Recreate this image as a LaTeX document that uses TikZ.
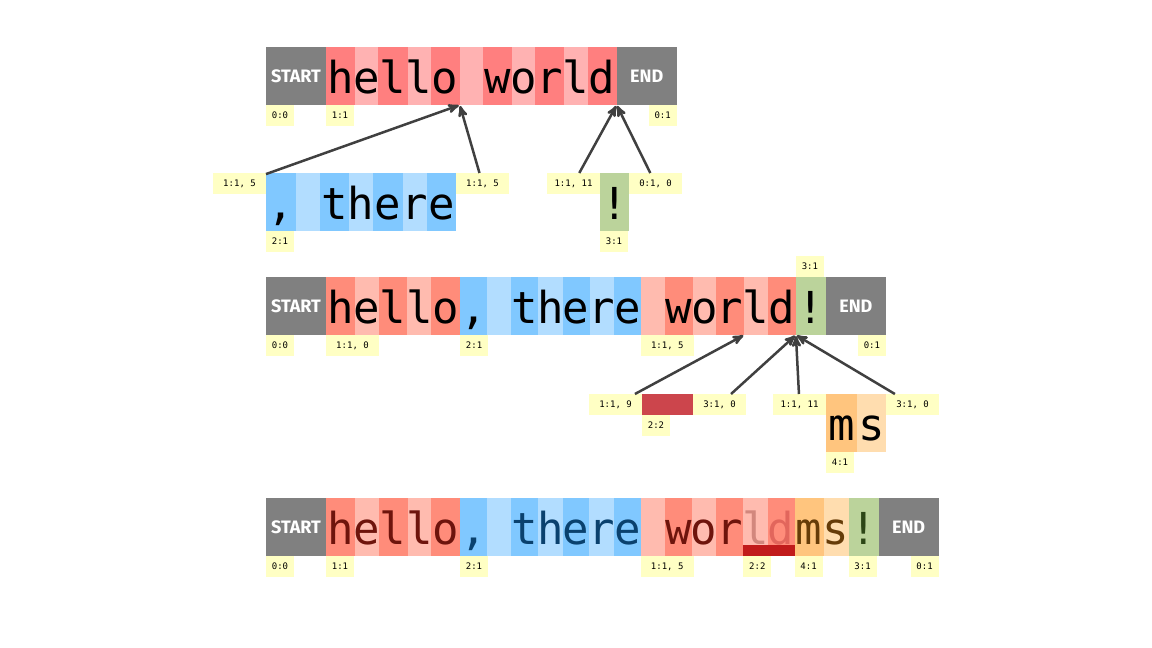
\documentclass[tikz,border=0pt]{standalone}
\usepackage{fontspec}
\usetikzlibrary{arrows,positioning}

\newfontfamily\codefont{DejaVu Sans Mono}
\newfontfamily\tagfont{Fira Sans}
\newcommand{\gl}[1]{\makebox[0pt]{#1}}

\definecolor{edgegray}{HTML}{404040}
\definecolor{boxgray}{HTML}{808080}
\definecolor{tagyellow}{HTML}{FFFFC4}
\definecolor{redA}{HTML}{FF7F7F}
\definecolor{redB}{HTML}{FFB2B2}
\definecolor{redC}{HTML}{FF8C7A}
\definecolor{redD}{HTML}{FFBBAF}
\definecolor{blueA}{HTML}{80C8FF}
\definecolor{blueB}{HTML}{B2DDFF}
\definecolor{greenA}{HTML}{BBD39B}
\definecolor{orangeA}{HTML}{FFC57E}
\definecolor{orangeB}{HTML}{FFDDAF}
\definecolor{delred}{HTML}{CC454C}
\definecolor{delbar}{HTML}{C11B1B}
\definecolor{redtext}{HTML}{6E140C}
\definecolor{bluetext}{HTML}{0A416E}
\definecolor{orangetext}{HTML}{663C08}
\definecolor{greentext}{HTML}{2C4616}
\definecolor{fadeA}{HTML}{D2877D}
\definecolor{fadeB}{HTML}{E2665C}

\tikzset{
  cell/.style={inner sep=0pt,outer sep=0pt,minimum height=58pt,
    text height=40pt,text depth=6pt,font=\codefont\fontsize{44}{44}\selectfont},
  endbox/.style={cell,fill=boxgray,minimum width=60pt,text=white,
    text height=13pt,text depth=0pt,font=\tagfont\bfseries\fontsize{18}{18}\selectfont},
  tag/.style={fill=tagyellow,inner sep=0pt,outer sep=0pt,minimum width=28pt,
    minimum height=21pt,text height=6.5pt,text depth=0pt,
    font=\codefont\fontsize{9}{10}\selectfont},
  long/.style={minimum width=53pt}
}

\begin{document}
\begin{tikzpicture}[x=1pt,y=-1pt,>=stealth',shorten >=1pt]
\useasboundingbox (0,0) rectangle (1152,648);

% hello world
\node[endbox,anchor=north west,alias=last] (s1) at (266,47) {START};
\foreach \glyph/\len/\bg [count=\i] in {h/29.2/redA, e/23.1/redB, l/29.2/redA, l/23.1/redB,
    o/29.2/redA, {}/23.1/redB, w/29.2/redA, o/23.1/redB, r/29.2/redA, l/23.1/redB, d/29.2/redA}
  \node[cell,fill=\bg,minimum width=\len pt,right=0pt of last,alias=last] (a\i) {\gl{\glyph}};
\node[endbox,right=0pt of last] (e1) {END};
\node[tag,anchor=north west] (ta1) at (s1.south west) {0:0};
\node[tag,anchor=north west] (ta2) at (a1.south west) {1:1};
\node[tag,anchor=north east] (ta3) at (e1.south east) {0:1};

% inserts
\coordinate[alias=last] (b0) at (266,202);
\foreach \glyph/\len/\bg [count=\i] in {{,}/29.5/blueA, {}/24/blueB, t/29.5/blueA, h/24/blueB,
    e/29.5/blueA, r/24/blueB, e/29.5/blueA}
  \node[cell,fill=\bg,minimum width=\len pt,right=0pt of last,alias=last] (b\i) {\gl{\glyph}};
\node[tag,long,anchor=north east] (tb1) at (b1.north west) {1:1, 5};
\node[tag,long,anchor=north west] (tb2) at (b7.north east) {1:1, 5};
\node[tag,anchor=north west] (tb3) at (b1.south west) {2:1};

\node[cell,fill=greenA,minimum width=29pt,anchor=north west] (x1) at (600,173) {\gl{!}};
\node[tag,long,anchor=north east] (tb4) at (x1.north west) {1:1, 11};
\node[tag,long,anchor=north west] (tb5) at (x1.north east) {0:1, 0};
\node[tag,anchor=north west] (tb6) at (x1.south west) {3:1};

\path[->,color=edgegray,line width=2.5pt]
  (tb1) edge (a5.south east)
  (tb2) edge (a5.south east)
  (tb4) edge (a11.south east)
  (tb5) edge (e1.south west);

% hello, there world!
\node[endbox,anchor=north west,alias=last] (s2) at (266,277) {START};
\foreach \glyph/\len/\bg [count=\i] in {h/28.7/redC, e/24/redD, l/28.7/redC, l/24/redD, o/28.7/redC,
    {,}/26.8/blueA, {}/24.5/blueB, t/26.8/blueA, h/24.5/blueB, e/26.8/blueA, r/24.5/blueB, e/26.8/blueA,
    {}/23.7/redD, w/28/redC, o/23.7/redD, r/28/redC, l/23.7/redD, d/28/redC, !/30/greenA}
  \node[cell,fill=\bg,minimum width=\len pt,right=0pt of last,alias=last] (m\i) {\gl{\glyph}};
\node[endbox,right=0pt of last] (e2) {END};
\node[tag,anchor=south west] (tm1) at (m19.north west) {3:1};
\node[tag,anchor=north west] (tm2) at (s2.south west) {0:0};
\node[tag,long,anchor=north west] (tm3) at (m1.south west) {1:1, 0};
\node[tag,anchor=north west] (tm4) at (m6.south west) {2:1};
\node[tag,long,anchor=north west] (tm5) at (m13.south west) {1:1, 5};
\node[tag,anchor=north east] (tm6) at (e2.south east) {0:1};

% edits
\node[fill=delred,inner sep=0pt,outer sep=0pt,minimum width=51pt,minimum height=21pt,
  anchor=north west] (d1) at (642,394) {};
\node[tag,long,anchor=north east] (td1) at (d1.north west) {1:1, 9};
\node[tag,long,anchor=north west] (td2) at (d1.north east) {3:1, 0};
\node[tag,anchor=north west] (td3) at (d1.south west) {2:2};

\node[cell,fill=orangeA,minimum width=31pt,anchor=north west] (n1) at (826,394) {\gl{m}};
\node[cell,fill=orangeB,minimum width=29pt,right=0pt of n1] (n2) {\gl{s}};
\node[tag,long,anchor=north east] (tn1) at (n1.north west) {1:1, 11};
\node[tag,long,anchor=north west] (tn2) at (n2.north east) {3:1, 0};
\node[tag,anchor=north west] (tn3) at (n1.south west) {4:1};

\path[->,color=edgegray,line width=2.5pt]
  (td1) edge (m16.south east)
  (td2) edge (m19.south west)
  (tn1) edge (m18.south east)
  (tn2) edge (m19.south west);

% result
\node[endbox,anchor=north west,alias=last] (s3) at (266,498) {START};
\foreach \glyph/\len/\bg/\ink [count=\i] in {h/29/redC/redtext, e/23.5/redD/redtext,
    l/29/redC/redtext, l/23.5/redD/redtext, o/29/redC/redtext,
    {,}/26.8/blueA/bluetext, {}/24.5/blueB/bluetext, t/26.8/blueA/bluetext, h/24.5/blueB/bluetext,
    e/26.8/blueA/bluetext, r/24.5/blueB/bluetext, e/26.8/blueA/bluetext,
    {}/24.3/redD/redtext, w/27/redC/redtext, o/24.3/redD/redtext, r/27/redC/redtext,
    l/24.3/redD/fadeA, d/27/redC/fadeB, m/29/orangeA/orangetext, s/25/orangeB/orangetext,
    !/30/greenA/greentext}
  \node[cell,fill=\bg,text=\ink,minimum width=\len pt,right=0pt of last,alias=last] (z\i) {\gl{\glyph}};
\node[endbox,right=0pt of last] (e3) {END};
\fill[delbar] (z17.south west) ++(0,-11) rectangle (z18.south east);
\node[tag,anchor=north west] (tz1) at (s3.south west) {0:0};
\node[tag,anchor=north west] (tz2) at (z1.south west) {1:1};
\node[tag,anchor=north west] (tz3) at (z6.south west) {2:1};
\node[tag,long,anchor=north west] (tz4) at (z13.south west) {1:1, 5};
\node[tag,anchor=north west] (tz5) at (z17.south west) {2:2};
\node[tag,anchor=north west] (tz6) at (z19.south west) {4:1};
\node[tag,anchor=north west] (tz7) at (z21.south west) {3:1};
\node[tag,anchor=north east] (tz8) at (e3.south east) {0:1};
\end{tikzpicture}
\end{document}
